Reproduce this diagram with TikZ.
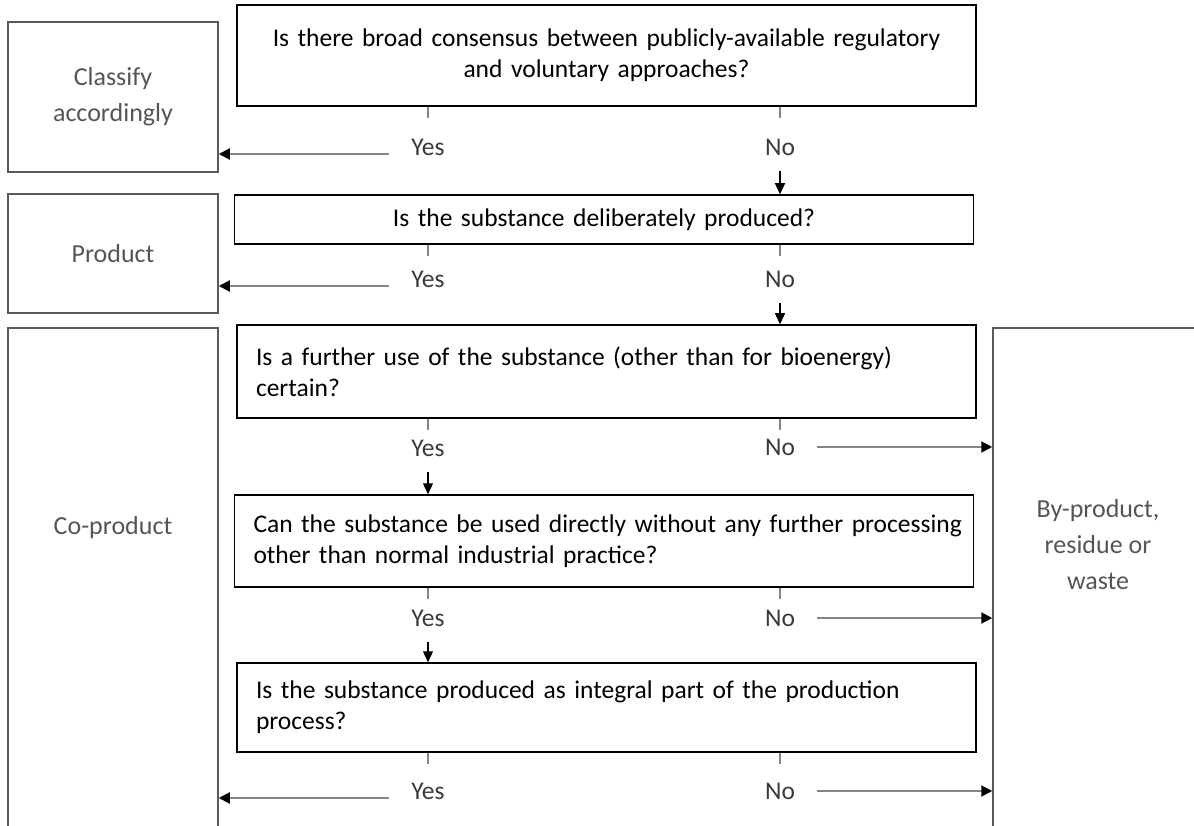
\documentclass[tikz,border=0pt]{standalone}
\usepackage{fontspec}
\setmainfont{Carlito}
\usetikzlibrary{arrows.meta}
\definecolor{boxgray}{HTML}{5A5A5A}
\definecolor{arrowgray}{HTML}{858585}
\definecolor{outcomegray}{HTML}{555555}
\definecolor{answergray}{HTML}{3A3A3A}

\begin{document}
\begin{tikzpicture}
  [x=1pt,y=-1pt,
   every node/.style={font=\fontsize{25.5}{31}\selectfont},
   question/.style={draw,line width=1.5pt,minimum width=739pt,text width=701pt,inner xsep=19pt,inner ysep=0pt},
   outcome/.style={draw=boxgray,line width=1.5pt,minimum width=210pt,align=center,text=outcomegray,font=\fontsize{26}{36}\selectfont},
   answer/.style={text=answergray,inner sep=0pt,text height=17pt,text depth=0pt},
   tickline/.style={arrowgray,line width=1.5pt},
   downarrow/.style={line width=1.3pt,-{Triangle[length=11pt,width=10pt]}},
   sidearrow/.style={arrowgray,line width=2pt,-{Triangle[length=11pt,width=11pt,color=black]}}]
  \useasboundingbox (0,0) rectangle (1194,826);
  \clip (0,0) rectangle (1194,826);

  % questions
  \node[question,minimum height=101pt,align=center] (q1) at (606.5,55.5) {Is there broad consensus between publicly-available regulatory\\and voluntary approaches?};
  \node[question,minimum height=49pt,align=center] (q2) at (604,219.5) {Is the substance deliberately produced?};
  \node[question,minimum height=93pt,align=left] (q3) at (606.5,371.5) {Is a further use of the substance (other than for bioenergy)\\certain?};
  \node[question,minimum height=92pt,align=left] (q4) at (604,541) {\mbox{Can the substance be used directly without any further processing}\\other than normal industrial practice?};
  \node[question,minimum height=89pt,align=left] (q5) at (606.5,707.5) {Is the substance produced as integral part of the production\\process?};

  % outcomes
  \node[outcome,minimum height=150pt] (classify) at (113,97) {Classify\\accordingly};
  \node[outcome,minimum height=119pt] (product) at (113,253.5) {Product};
  \node[outcome,minimum height=520pt] (coprod) at (113,588) {};
  \node[text=outcomegray,font=\fontsize{26}{36}\selectfont] (coprodtext) at (113,528) {Co-product};
  \node[outcome,minimum height=520pt] (byprod) at (1098,588) {};
  \node[outcome,draw=none] (byprodtext) at (1098,545) {By-product,\\residue or\\waste};

  % answers
  \node[answer] (yes1) at (428,147) {Yes};
  \node[answer] (no1) at (780,147) {No};
  \node[answer] (yes2) at (428,279) {Yes};
  \node[answer] (no2) at (780,279) {No};
  \node[answer] (yes3) at (428,448) {Yes};
  \node[answer] (no3) at (780,447) {No};
  \node[answer] (yes4) at (428,618) {Yes};
  \node[answer] (no4) at (780,618) {No};
  \node[answer] (yes5) at (428,791) {Yes};
  \node[answer] (no5) at (780,791) {No};

  \foreach \q/\a in {q1/yes1, q1/no1, q2/yes2, q2/no2, q3/yes3, q3/no3, q4/yes4, q4/no4, q5/yes5, q5/no5}
    \draw[tickline] (\q.south -| \a) -- ++(0,11);

  \foreach \from/\to in {no1/q2, no2/q3, yes3/q4, yes4/q5}
    \draw[downarrow] ([yshift=-15pt]\from.south) -- (\from |- \to.north);

  \foreach \from/\to in {yes1/classify, yes2/product, yes5/coprod}
    \draw[sidearrow,transform canvas={yshift=-7pt}] ([xshift=-22pt]\from.west) -- (\from -| \to.east);

  \foreach \from in {no3, no4, no5}
    \draw[sidearrow] ([xshift=22pt]\from.east) -- (\from -| byprod.west);

\end{tikzpicture}
\end{document}
